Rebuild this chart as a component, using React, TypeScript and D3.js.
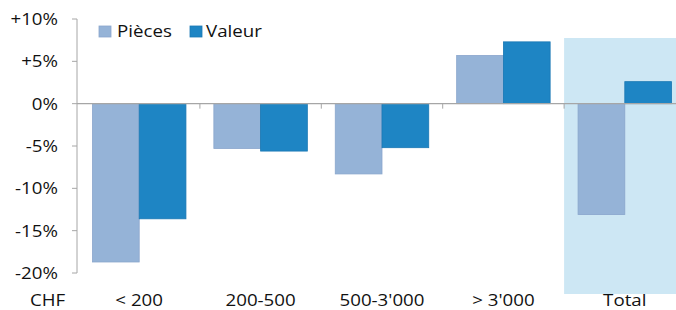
import React from "react";
import * as d3 from "d3";

const categories = ["< 200", "200-500", "500-3'000", "> 3'000", "Total"];
const seriesNames = ["Pièces", "Valeur"];
const pieces = [-18.7, -5.3, -8.3, 5.7, -13.1];
const valeur = [-13.6, -5.6, -5.2, 7.3, 2.6];
const yTicks = [10, 5, 0, -5, -10, -15, -20];
const colors = ["#95b3d7", "#1e85c4"];

const width = 676;
const height = 310;
const left = 77;
const bandStart = 78.5;
const top = 19;
const bottom = 273;
const sx = 1.17; // horizontal stretch of the text
const font = "'Open Sans', sans-serif";

export default function App() {
  const y = d3.scaleLinear().domain([10, -20]).range([top, bottom]);
  const x = d3
    .scaleBand<string>()
    .domain(categories)
    .range([bandStart, bandStart + 5 * 121.4])
    .paddingInner(0.23)
    .paddingOuter(0.115);
  const sub = d3.scaleBand<string>().domain(seriesNames).range([0, x.bandwidth()]);
  const step = x.step();
  const values = [pieces, valeur];

  const label = (tx: number, ty: number, text: string, anchor: string, key?: string) => (
    <text
      key={key}
      transform={`translate(${tx},${ty}) scale(${sx},1)`}
      textAnchor={anchor}
      fontFamily={font}
      fontSize={16}
      fill="#111"
    >
      {text}
    </text>
  );

  const totalStart = bandStart + 4 * step;

  return (
    <svg
      width={width}
      height={height}
      style={{ position: "absolute", left: 0, top: 0, background: "#fff" }}
    >
      {/* highlighted total */}
      <rect x={totalStart} y={38} width={width - totalStart} height={294 - 38} fill="#cde7f4" />

      {/* bars */}
      {values.map((vals, si) =>
        vals.map((v, i) => (
          <rect
            key={`${si}-${i}`}
            x={(x(categories[i]) as number) + (sub(seriesNames[si]) as number)}
            y={y(Math.max(0, v))}
            width={sub.bandwidth()}
            height={Math.abs(y(v) - y(0))}
            fill={colors[si]}
            stroke={si === 0 ? "#8aa6cc" : "#1a78b4"}
            strokeWidth={0.8}
          />
        ))
      )}

      {/* y axis */}
      <line x1={left} x2={left} y1={y(10)} y2={y(-20)} stroke="#a6a6a6" />
      {yTicks.map((t) => (
        <g key={t}>
          <line x1={left - 5} x2={left} y1={y(t)} y2={y(t)} stroke="#a6a6a6" />
          {label(58, y(t) + 6, t > 0 ? `+${t}%` : `${t}%`, "end")}
        </g>
      ))}

      {/* zero line with category ticks */}
      <line x1={left} x2={width} y1={y(0)} y2={y(0)} stroke="#a6a6a6" strokeWidth={1.2} />
      {d3.range(1, 5).map((k) => (
        <line
          key={k}
          x1={bandStart + k * step}
          x2={bandStart + k * step}
          y1={y(0)}
          y2={y(0) + 5}
          stroke="#a6a6a6"
        />
      ))}

      {/* category labels */}
      {label(30, 306, "CHF", "start")}
      {categories.map((c) =>
        label((x(c) as number) + x.bandwidth() / 2, 306, c, "middle", c)
      )}

      {/* legend */}
      {seriesNames.map((s, i) => (
        <g key={s}>
          <rect
            x={i === 0 ? 99 : 190}
            y={26}
            width={12}
            height={11}
            fill={colors[i]}
            stroke={i === 0 ? "#8aa6cc" : "#1a78b4"}
            strokeWidth={0.8}
          />
          {label(i === 0 ? 117 : 206, 37, s, "start")}
        </g>
      ))}
    </svg>
  );
}
